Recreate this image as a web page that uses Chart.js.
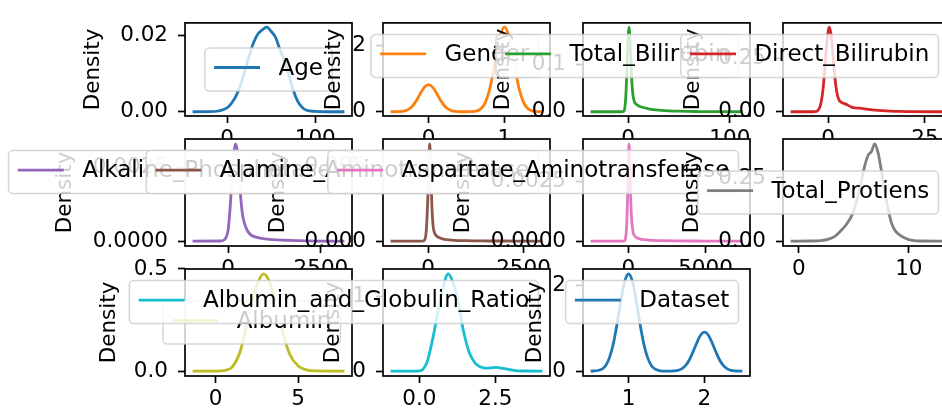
<!DOCTYPE html>
<html><head><meta charset="utf-8">
<script src="https://cdn.jsdelivr.net/npm/chart.js@4"></script>
<style>
html,body{margin:0;padding:0;background:#fff;}
#wrap{position:relative;width:942px;height:414px;overflow:hidden;background:#fff;}
canvas{position:absolute;left:0;top:0;}
</style></head><body><div id="wrap"></div>
<script>
// ---------- data ----------
const ageX = [-39, -20, -10, 0, 5, 10, 15, 20, 25, 30, 35, 40, 45, 50, 55, 60, 65, 70, 75, 80, 85, 90, 100, 110, 133];
const ageY = [0, 0.00002, 0.0002, 0.0010, 0.0022, 0.0040, 0.0068, 0.0105, 0.0145, 0.0180, 0.0203, 0.0214, 0.0221, 0.0210, 0.0194, 0.0162, 0.0135, 0.0097, 0.0057, 0.0028, 0.0012, 0.0004, 0.0001, 0.00001, 0];

const genderX = [-0.5, -0.45, -0.35, -0.3, -0.25, -0.2, -0.15, -0.1, -0.05, 0, 0.05, 0.1, 0.15, 0.2, 0.25, 0.3, 0.35, 0.45, 0.5, 0.55, 0.65, 0.7, 0.75, 0.8, 0.85, 0.9, 0.95, 1, 1.05, 1.1, 1.15, 1.2, 1.25, 1.3, 1.35, 1.45, 1.5];
const genderY = [0.0002, 0.001, 0.012, 0.036, 0.093, 0.204, 0.375, 0.58, 0.75, 0.82, 0.75, 0.58, 0.375, 0.204, 0.093, 0.036, 0.012, 0.001, 0.0005, 0.002, 0.036, 0.112, 0.29, 0.635, 1.17, 1.80, 2.34, 2.55, 2.34, 1.80, 1.17, 0.635, 0.29, 0.112, 0.036, 0.002, 0.0005];

const tbX = [-36.9, -10, -5, -4, -3, -2, -1, 0, 0.8, 1.6, 2.5, 3.5, 4.5, 6, 8, 10, 15, 20, 25, 30, 40, 50, 60, 70, 80, 90, 112.3];
const tbY = [0, 0.00001, 0.0004, 0.002, 0.012, 0.045, 0.105, 0.16, 0.18, 0.165, 0.12, 0.07, 0.04, 0.022, 0.016, 0.013, 0.009, 0.006, 0.0045, 0.0035, 0.002, 0.0012, 0.0008, 0.0005, 0.0002, 0.0001, 0];

const dbX = [-9.7, -4, -3, -2, -1.5, -1, -0.5, 0, 0.3, 0.7, 1, 1.5, 2, 2.5, 3, 4, 5, 6, 7, 8, 9, 10, 12, 14, 16, 18, 20, 22, 29.5];
const dbY = [0, 0.00005, 0.002, 0.03, 0.08, 0.17, 0.29, 0.38, 0.40, 0.37, 0.32, 0.21, 0.12, 0.07, 0.05, 0.04, 0.032, 0.022, 0.018, 0.017, 0.015, 0.012, 0.008, 0.005, 0.003, 0.002, 0.001, 0.0003, 0];

const alkX = [-960.5, -200, -100, 0, 50, 100, 150, 200, 250, 300, 350, 400, 500, 600, 800, 1000, 1200, 1500, 1800, 2100, 2500, 3133.5];
const alkY = [0, 0.000005, 0.00005, 0.0004, 0.0011, 0.0021, 0.0029, 0.0033, 0.003, 0.0021, 0.0013, 0.0008, 0.0004, 0.00022, 0.00012, 0.00008, 0.00005, 0.00003, 0.00002, 0.00001, 0.000003, 0];

const alaX = [-985, -150, -100, -50, 0, 25, 40, 60, 80, 100, 130, 160, 200, 300, 400, 600, 800, 1000, 1300, 1600, 2000, 2500, 2995];
const alaY = [0, 0.000005, 0.00005, 0.0007, 0.0035, 0.0058, 0.0065, 0.0056, 0.0038, 0.0022, 0.001, 0.0006, 0.0004, 0.00022, 0.00013, 0.00007, 0.00004, 0.00003, 0.00002, 0.00001, 0.00001, 0.000003, 0];

const aspX = [-2449.5, -300, -200, -100, -50, 0, 40, 80, 130, 200, 300, 400, 600, 1000, 1500, 2000, 3000, 5000, 7388.5];
const aspY = [0, 0.000005, 0.00008, 0.0008, 0.002, 0.0033, 0.0041, 0.0036, 0.0022, 0.001, 0.0004, 0.00022, 0.00012, 0.00006, 0.00003, 0.00002, 0.00001, 0.000004, 0];

const tpX = [-0.75, 1, 2, 2.7, 3.3, 3.8, 4.3, 4.8, 5.2, 5.6, 6.0, 6.3, 6.6, 6.9, 7.2, 7.5, 7.8, 8.1, 8.4, 8.7, 9.0, 9.5, 10, 10.5, 11, 13.05];
const tpY = [0, 0.0005, 0.002, 0.008, 0.02, 0.04, 0.065, 0.1, 0.15, 0.22, 0.30, 0.34, 0.355, 0.385, 0.35, 0.28, 0.2, 0.13, 0.075, 0.045, 0.03, 0.015, 0.006, 0.002, 0.0005, 0];

const albX = [-1.4, 0, 0.5, 1, 1.5, 2, 2.5, 2.9, 3.3, 3.7, 4.1, 4.5, 5, 5.5, 6, 7.8];
const albY = [0, 0.0005, 0.003, 0.02, 0.1, 0.27, 0.42, 0.476, 0.43, 0.31, 0.18, 0.08, 0.025, 0.006, 0.001, 0];

const agX = [-0.95, -0.2, 0, 0.1, 0.25, 0.45, 0.6, 0.75, 0.95, 1.1, 1.25, 1.45, 1.65, 1.85, 2.0, 2.2, 2.5, 2.8, 3.1, 3.4, 4.05];
const agY = [0, 0.0005, 0.005, 0.02, 0.12, 0.46, 0.78, 1.08, 1.31, 1.2, 0.98, 0.54, 0.24, 0.1, 0.06, 0.04, 0.05, 0.035, 0.01, 0.002, 0];

const dsX = [0.5, 0.6, 0.65, 0.7, 0.75, 0.8, 0.85, 0.9, 0.95, 1, 1.05, 1.1, 1.15, 1.2, 1.25, 1.3, 1.35, 1.4, 1.5, 1.6, 1.65, 1.7, 1.75, 1.8, 1.85, 1.9, 1.95, 2, 2.05, 2.1, 2.15, 2.2, 2.25, 2.3, 2.35, 2.4, 2.5];
const dsY = [0.001, 0.015, 0.047, 0.133, 0.32, 0.64, 1.11, 1.65, 2.09, 2.26, 2.09, 1.65, 1.11, 0.64, 0.32, 0.133, 0.047, 0.015, 0.0014, 0.006, 0.019, 0.053, 0.127, 0.26, 0.45, 0.66, 0.84, 0.906, 0.84, 0.66, 0.45, 0.26, 0.127, 0.053, 0.019, 0.006, 0.0004];

// ---------- tick values / labels ----------
const ageXTicks = [0, 100], ageXLabels = ['0', '100'], ageYTicks = [0, 0.02], ageYLabels = ['0.00', '0.02'];
const genderXTicks = [0, 1], genderXLabels = ['0', '1'], genderYTicks = [0, 2], genderYLabels = ['0', '2'];
const tbXTicks = [0, 100], tbXLabels = ['0', '100'], tbYTicks = [0, 0.1], tbYLabels = ['0.0', '0.1'];
const dbXTicks = [0, 25], dbXLabels = ['0', '25'], dbYTicks = [0, 0.25], dbYLabels = ['0.00', '0.25'];
const alkXTicks = [0, 2500], alkXLabels = ['0', '2500'], alkYTicks = [0, 0.0025], alkYLabels = ['0.0000', '0.0025'];
const alaXTicks = [0, 2500], alaXLabels = ['0', '2500'], alaYTicks = [0, 0.005], alaYLabels = ['0.000', '0.005'];
const aspXTicks = [0, 5000], aspXLabels = ['0', '5000'], aspYTicks = [0, 0.0025], aspYLabels = ['0.0000', '0.0025'];
const tpXTicks = [0, 10], tpXLabels = ['0', '10'], tpYTicks = [0, 0.25], tpYLabels = ['0.00', '0.25'];
const albXTicks = [0, 5], albXLabels = ['0', '5'], albYTicks = [0, 0.5], albYLabels = ['0.0', '0.5'];
const agXTicks = [0, 2.5], agXLabels = ['0.0', '2.5'], agYTicks = [0, 1], agYLabels = ['0', '1'];
const dsXTicks = [1, 2], dsXLabels = ['1', '2'], dsYTicks = [0, 2], dsYLabels = ['0', '2'];

// ---------- layout / style ----------
const CW = 1000, CH = 414;
const colLeft = [185, 383, 583, 783], rowTop = [9, 139, 269];
const AXW = 167, AXH = 107;
const FONT = '"DejaVu Sans", sans-serif';
const FS = 21.5, LEG_F = 23, LW = 2.8, TL = 7, TW = 1.7;

const panels = [
  {label: 'Age', xs: ageX, ys: ageY, color: '#1f77b4', col: 0, row: 0, loc: 'C', tx: 93, xt: ageXTicks, xl: ageXLabels, yt: ageYTicks, yl: ageYLabels},
  {label: 'Gender', xs: genderX, ys: genderY, color: '#ff7f0e', col: 1, row: 0, loc: 'NE', tx: 334, xt: genderXTicks, xl: genderXLabels, yt: genderYTicks, yl: genderYLabels},
  {label: 'Total_Bilirubin', xs: tbX, ys: tbY, color: '#2ca02c', col: 2, row: 0, loc: 'NE', tx: 503, xt: tbXTicks, xl: tbXLabels, yt: tbYTicks, yl: tbYLabels},
  {label: 'Direct_Bilirubin', xs: dbX, ys: dbY, color: '#d62728', col: 3, row: 0, loc: 'NE', tx: 693, xt: dbXTicks, xl: dbXLabels, yt: dbYTicks, yl: dbYLabels},
  {label: 'Alkaline_Phosphotase', xs: alkX, ys: alkY, color: '#9467bd', col: 0, row: 1, loc: 'NE', tx: 65, xt: alkXTicks, xl: alkXLabels, yt: alkYTicks, yl: alkYLabels},
  {label: 'Alamine_Aminotransferase', xs: alaX, ys: alaY, color: '#8c564b', col: 1, row: 1, loc: 'NE', tx: 278, xt: alaXTicks, xl: alaXLabels, yt: alaYTicks, yl: alaYLabels},
  {label: 'Aspartate_Aminotransferase', xs: aspX, ys: aspY, color: '#e377c2', col: 2, row: 1, loc: 'NE', tx: 463, xt: aspXTicks, xl: aspXLabels, yt: aspYTicks, yl: aspYLabels},
  {label: 'Total_Protiens', xs: tpX, ys: tpY, color: '#7f7f7f', col: 3, row: 1, loc: 'E', tx: 692, xt: tpXTicks, xl: tpXLabels, yt: tpYTicks, yl: tpYLabels},
  {label: 'Albumin', xs: albX, ys: albY, color: '#bcbd22', col: 0, row: 2, loc: 'E', tx: 109, xt: albXTicks, xl: albXLabels, yt: albYTicks, yl: albYLabels},
  {label: 'Albumin_and_Globulin_Ratio', xs: agX, ys: agY, color: '#17becf', col: 1, row: 2, loc: 'NE', tx: 333, xt: agXTicks, xl: agXLabels, yt: agYTicks, yl: agYLabels},
  {label: 'Dataset', xs: dsX, ys: dsY, color: '#1f77b4', col: 2, row: 2, loc: 'NE', tx: 535, xt: dsXTicks, xl: dsXLabels, yt: dsYTicks, yl: dsYLabels}
];

// white axes face + black frame
const bgFrame = {
  id: 'bgFrame',
  beforeDraw(chart) {
    const {ctx, chartArea: a} = chart;
    ctx.save(); ctx.fillStyle = '#fff';
    ctx.fillRect(a.left, a.top, a.right - a.left, a.bottom - a.top); ctx.restore();
  },
  afterDatasetsDraw(chart) {
    const {ctx, chartArea: a} = chart;
    ctx.save(); ctx.strokeStyle = '#000'; ctx.lineWidth = TW;
    ctx.strokeRect(a.left, a.top, a.right - a.left, a.bottom - a.top); ctx.restore();
  }
};

// matplotlib-like legend anchored in the axes
const mplLegend = {
  id: 'mplLegend',
  afterDraw(chart, args, opts) {
    const ds = chart.data.datasets[0];
    const {ctx, chartArea: a} = chart;
    const f = opts.size;
    ctx.save();
    ctx.font = f + 'px ' + FONT;
    const tw = ctx.measureText(ds.label).width;
    const pad = 0.4 * f, hl = 2 * f, htp = 0.8 * f, bap = 0.5 * f;
    const w = 2 * pad + hl + htp + tw, h = 1.87 * f;
    const loc = opts.loc;
    let x0, y0;
    if (loc.includes('E')) x0 = a.right - bap - w;
    else if (loc.includes('W')) x0 = a.left + bap;
    else x0 = (a.left + a.right) / 2 - w / 2;
    if (loc.startsWith('N')) y0 = a.top + bap;
    else if (loc.startsWith('S')) y0 = a.bottom - bap - h;
    else y0 = (a.top + a.bottom) / 2 - h / 2;
    const r = 0.2 * f;
    ctx.beginPath();
    ctx.roundRect(x0, y0, w, h, r);
    ctx.fillStyle = 'rgba(255,255,255,0.8)';
    ctx.fill();
    ctx.strokeStyle = 'rgba(204,204,204,0.8)';
    ctx.lineWidth = 1.5;
    ctx.stroke();
    const hy = y0 + pad + 0.45 * f;
    ctx.beginPath();
    ctx.moveTo(x0 + pad, hy); ctx.lineTo(x0 + pad + hl, hy);
    ctx.strokeStyle = ds.borderColor; ctx.lineWidth = ds.borderWidth; ctx.stroke();
    ctx.fillStyle = '#000';
    ctx.textBaseline = 'alphabetic'; ctx.textAlign = 'left';
    ctx.fillText(ds.label, x0 + pad + hl + htp, y0 + pad + 0.77 * f);
    ctx.restore();
  }
};

const wrap = document.getElementById('wrap');
panels.forEach(p => {
  const cv = document.createElement('canvas');
  cv.width = CW; cv.height = CH;
  cv.style.width = CW + 'px'; cv.style.height = CH + 'px';
  wrap.appendChild(cv);
  const left = colLeft[p.col], top = rowTop[p.row];
  const right = left + AXW, bottom = top + AXH;
  const xmin = Math.min(...p.xs), xmax = Math.max(...p.xs), xr = xmax - xmin;
  const ymin = Math.min(...p.ys), ymax = Math.max(...p.ys), yr = ymax - ymin;
  const tickFont = {family: FONT, size: FS};
  new Chart(cv.getContext('2d'), {
    type: 'line',
    data: {datasets: [{
      label: p.label,
      data: p.xs.map((x, k) => ({x: x, y: p.ys[k]})),
      borderColor: p.color, borderWidth: LW, pointRadius: 0,
      cubicInterpolationMode: 'monotone', fill: false
    }]},
    options: {
      responsive: false, animation: false, devicePixelRatio: 1, events: [],
      layout: {padding: {left: 0, top: top, right: CW - right, bottom: 0}},
      plugins: {legend: {display: false}, tooltip: {enabled: false}, mplLegend: {loc: p.loc, size: LEG_F}},
      scales: {
        x: {
          type: 'linear', bounds: 'data', min: xmin - 0.05 * xr, max: xmax + 0.05 * xr,
          afterBuildTicks: s => { s.ticks = p.xt.map(v => ({value: v})); },
          afterFit: s => { s.height = CH - bottom; },
          grid: {display: true, drawOnChartArea: false, drawTicks: true, tickLength: TL, tickWidth: TW, tickColor: '#000'},
          border: {display: false},
          ticks: {autoSkip: false, maxRotation: 0, minRotation: 0, padding: 4, color: '#000', font: tickFont,
                  callback: (v, k) => p.xl[k]}
        },
        y: {
          type: 'linear', bounds: 'data', min: ymin - 0.05 * yr, max: ymax + 0.05 * yr,
          afterBuildTicks: s => { s.ticks = p.yt.map(v => ({value: v})); },
          afterFit: s => { s.width = left; },
          grid: {display: true, drawOnChartArea: false, drawTicks: true, tickLength: TL, tickWidth: TW, tickColor: '#000'},
          border: {display: false},
          ticks: {autoSkip: false, padding: 10, color: '#000', font: tickFont,
                  callback: (v, k) => p.yl[k]},
          title: {display: true, text: 'Density', color: '#000', font: tickFont,
                  padding: {top: p.tx - 0.6 * FS, bottom: 0}}
        }
      }
    },
    plugins: [bgFrame, mplLegend]
  });
});
</script></body></html>
